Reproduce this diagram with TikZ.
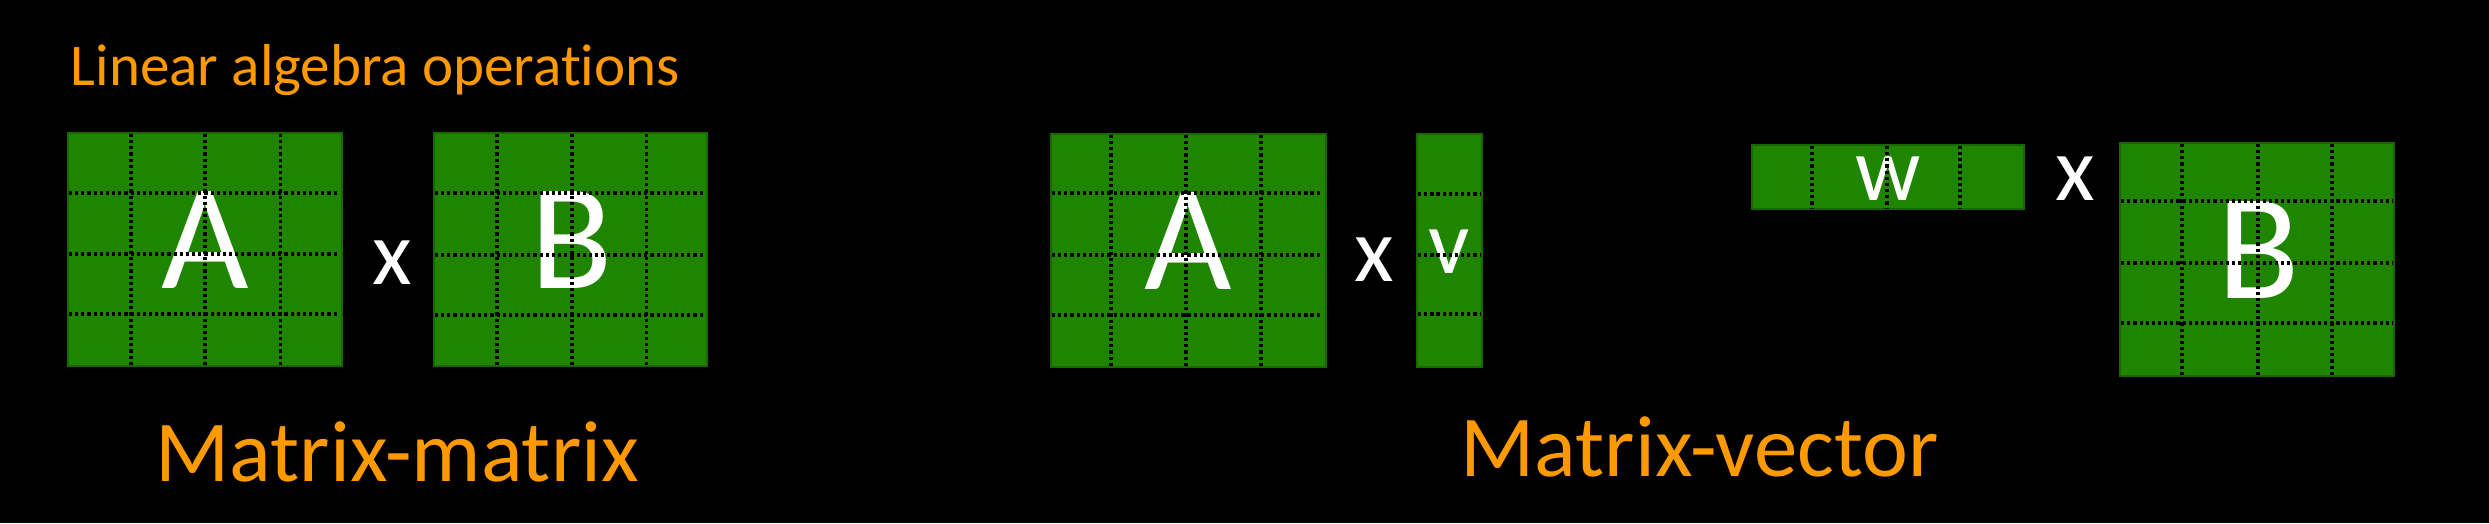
\documentclass[tikz,border=0pt]{standalone}
\usepackage{fontspec}
\setmainfont{Carlito}[Ligatures=NoCommon]
\definecolor{matgreen}{RGB}{31,133,0}
\definecolor{matedge}{RGB}{24,104,0}
\definecolor{amzorange}{RGB}{255,153,0}
\begin{document}
\begin{tikzpicture}[x=0.01cm,y=-0.01cm,
  mat/.style={fill=matgreen, draw=matedge, line width=0.8pt},
  gridline/.style={black, line width=0.95pt, dash pattern=on 0.9pt off 0.85pt},
  big/.style={text=white, font=\fontsize{43}{43}\selectfont, inner sep=0pt, anchor=base},
  op/.style={text=white, font=\fontsize{26}{26}\selectfont, inner sep=0pt, anchor=base},
  lab/.style={text=amzorange, inner sep=0pt, anchor=base west}]
\fill[black] (0,0) rectangle (2489,523);
\path[use as bounding box] (0,0) rectangle (2489,523);

% title
\node[lab, font=\fontsize{16.8}{17}\selectfont] (title) at (70,85) {Linear algebra operations};

% ---- Matrix-matrix ----
\draw[mat] (68,133) rectangle (342,366);
\node[big] (A1) at (205,288) {A};
\foreach \x in {131,205,280.5} \draw[gridline] (\x,134) -- (\x,365);
\foreach \y in {193,254,314} \draw[gridline] (69,\y) -- (339,\y);

\node[op] (x1) at (392,284) {x};

\draw[mat] (434,133) rectangle (707,366);
\node[big] (B1) at (572,288) {B};
\foreach \x in {497,572,646.5} \draw[gridline] (\x,134) -- (\x,365);
\foreach \y in {193,255,315} \draw[gridline] (435,\y) -- (705,\y);

\node[lab, font=\fontsize{24.7}{25}\selectfont] (mm) at (155,481.5) {Matrix-matrix};

% ---- Matrix-vector ----
\draw[mat] (1051,134) rectangle (1326,367);
\node[big] (A2) at (1188,289) {A};
\foreach \x in {1111,1186,1261} \draw[gridline] (\x,135) -- (\x,366);
\foreach \y in {193,255,315} \draw[gridline] (1052,\y) -- (1321,\y);

\node[op] (x2) at (1374.5,281) {x};

\draw[mat] (1417,134) rectangle (1482,367);
\node[op] (v) at (1449,273) {v};
\foreach \y in {194,255,314} \draw[gridline] (1418,\y) -- (1481,\y);

\draw[mat] (1752,145) rectangle (2024,209);
\node[op] (w) at (1888,200) {w};
\foreach \x in {1812,1887,1960} \draw[gridline] (\x,146) -- (\x,208);

\node[op] (x3) at (2075,200) {x};

\draw[mat] (2120,143) rectangle (2394,376);
\node[big] (B2) at (2259,298) {B};
\foreach \x in {2182,2258,2332} \draw[gridline] (\x,144) -- (\x,375);
\foreach \y in {201,263,323} \draw[gridline] (2121,\y) -- (2392,\y);

\node[lab, font=\fontsize{24.7}{25}\selectfont] (mv) at (1460,476) {Matrix-vector};
\end{tikzpicture}
\end{document}
